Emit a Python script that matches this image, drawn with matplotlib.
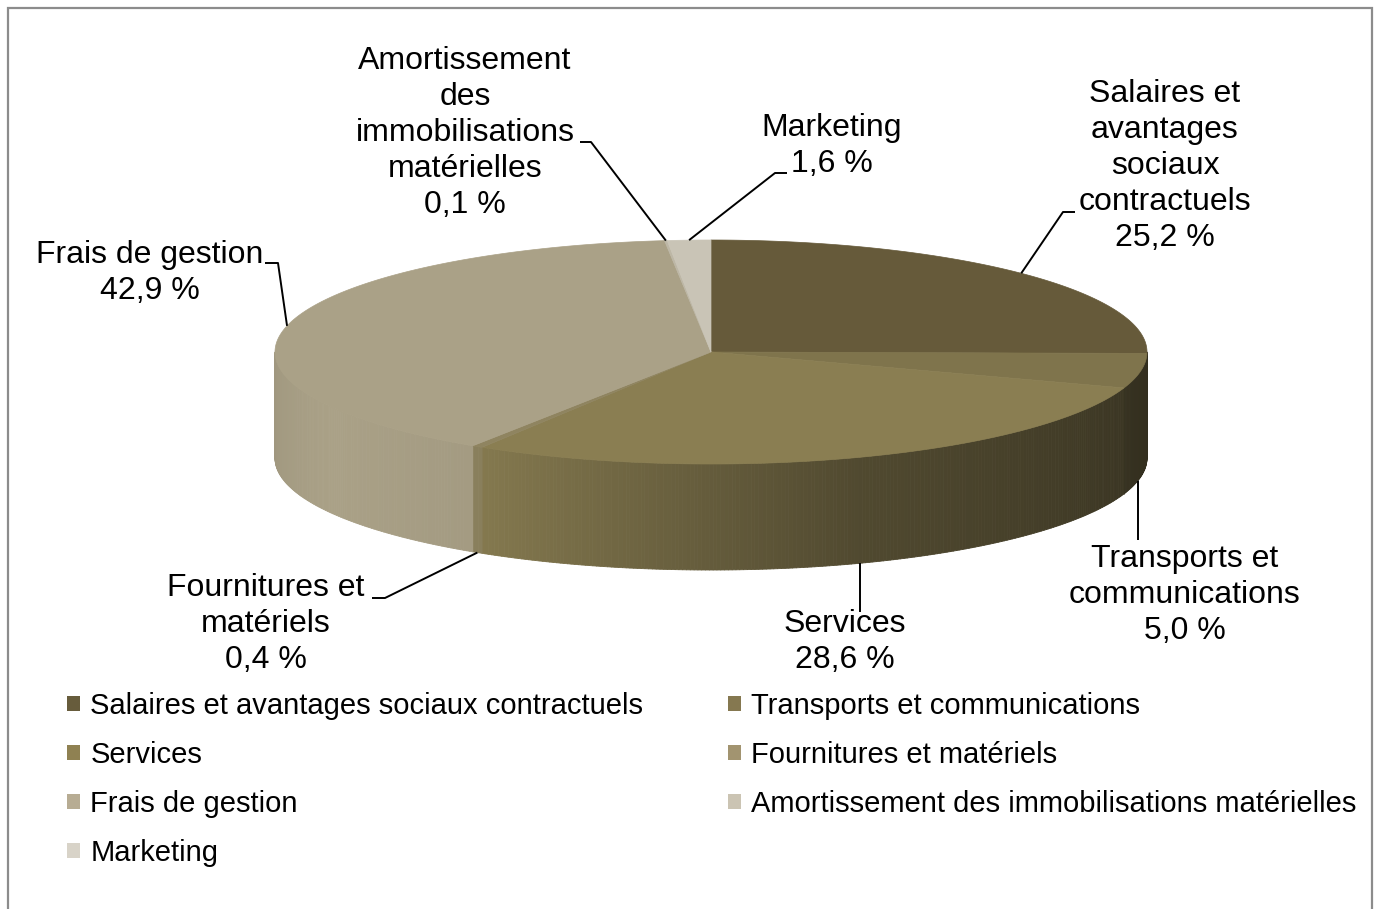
import numpy as np
import matplotlib
matplotlib.use("Agg")
import matplotlib.pyplot as plt
from matplotlib.patches import Polygon, Rectangle, Patch
from matplotlib.collections import PolyCollection
import matplotlib.colors as mcolors

# ---------------- data ----------------
categories = [
    "Salaires et avantages sociaux contractuels",
    "Transports et communications",
    "Services",
    "Fournitures et matériels",
    "Frais de gestion",
    "Amortissement des immobilisations matérielles",
    "Marketing",
]
# size of each drawn slice (percent of the circle)
slice_shares = [25.2, 5.0, 28.6, 0.4, 39.1, 0.1, 1.6]
# percentages printed in the data labels
label_values = ["25,2 %", "5,0 %", "28,6 %", "0,4 %", "42,9 %", "0,1 %", "1,6 %"]
label_names = [
    "Salaires et\navantages\nsociaux\ncontractuels",
    "Transports et\ncommunications",
    "Services",
    "Fournitures et\nmatériels",
    "Frais de gestion",
    "Amortissement\ndes\nimmobilisations\nmatérielles",
    "Marketing",
]

# ---------------- style ----------------
top_colors = ["#665a3a", "#7f744c", "#8a7e52", "#8f8460", "#aaa187", "#bdb7a6", "#c9c4b6"]
legend_colors = ["#675c3c", "#857850", "#8f8152", "#a29470", "#b7ac93", "#cbc4b3", "#d8d3c8"]
FONT = "Liberation Sans"
FS_LEG = 21
FS_LAB = 23

W, H = 1374, 909
fig = plt.figure(figsize=(W / 100, H / 100), dpi=100)
ax = fig.add_axes([0, 0, 1, 1])
ax.set_xlim(0, W)
ax.set_ylim(H, 0)
ax.axis("off")

# pie geometry (pixels)
cx, cy, rx, ry, depth = 711, 352, 436, 112, 106

shares = np.array(slice_shares, dtype=float)
edges = np.concatenate([[0], np.cumsum(shares)]) / shares.sum() * 360.0


def rim(th):
    t = np.radians(th)
    return cx + rx * np.sin(t), cy - ry * np.cos(t)


def shade(th):
    # lighting factor for the side wall depending on its facing angle
    return np.interp(th, [90, 106, 160, 212, 240, 270],
                     [0.40, 0.42, 0.58, 0.96, 1.0, 0.94])


# side walls (front half only)
polys, cols = [], []
for i in range(len(shares)):
    a0, a1 = edges[i], edges[i + 1]
    lo, hi = max(a0, 90.0), min(a1, 270.0)
    if lo >= hi:
        continue
    ts = np.append(np.arange(lo, hi, 0.5), hi)
    base = np.array(mcolors.to_rgb(top_colors[i]))
    for t0, t1 in zip(ts[:-1], ts[1:]):
        x0, y0 = rim(t0)
        x1, y1 = rim(t1)
        polys.append([(x0, y0), (x1, y1), (x1, y1 + depth), (x0, y0 + depth)])
        cols.append(np.clip(base * shade((t0 + t1) / 2), 0, 1))
pc = PolyCollection(polys, facecolors=cols, edgecolors=cols, linewidths=0.6)
ax.add_collection(pc)

# top faces
for i in range(len(shares)):
    ts = np.linspace(edges[i], edges[i + 1], max(3, int((edges[i + 1] - edges[i]) * 2)))
    xs, ys = rim(ts)
    pts = [(cx, cy)] + list(zip(xs, ys))
    ax.add_patch(Polygon(pts, closed=True, facecolor=top_colors[i],
                         edgecolor=top_colors[i], linewidth=0.5))

# ---------------- data labels ----------------
mid = (edges[:-1] + edges[1:]) / 2
# text centre, leader-line start points, anchor mode
label_layout = [
    dict(pos=(1165, 166), line=[(1075, 212), (1063, 212)], mode="top"),
    dict(pos=(1185, 595), line=[(1138, 540)], mode="vertical"),
    dict(pos=(845, 642), line=[(860, 612)], mode="vertical"),
    dict(pos=(266, 624), line=[(372, 598), (385, 598)], mode="bottom"),
    dict(pos=(150, 273), line=[(265, 263), (278, 263)], mode="top"),
    dict(pos=(465, 133), line=[(580, 142), (591, 142)], mode="top"),
    dict(pos=(832, 146), line=[(787, 173), (775, 173)], mode="top"),
]

for i, lay in enumerate(label_layout):
    ax.text(lay["pos"][0], lay["pos"][1], label_names[i] + "\n" + label_values[i],
            ha="center", va="center", fontsize=FS_LAB, family=FONT, linespacing=1.27,
            color="black")
    if lay["mode"] == "top":
        axx, ayy = rim(mid[i])
    elif lay["mode"] == "bottom":
        axx, ayy = rim(mid[i])
        ayy += depth
    else:
        lx = lay["line"][-1][0]
        th = 180 - np.degrees(np.arcsin((lx - cx) / rx))
        axx, ayy = rim(th)
        axx = lx
        ayy += depth
    pts = lay["line"] + [(axx, ayy)]
    ax.plot([p[0] for p in pts], [p[1] for p in pts], color="black", lw=1.4,
            solid_capstyle="butt")

# ---------------- legend ----------------
handles = [Patch(facecolor=c, edgecolor="none") for c in legend_colors]
order = [0, 2, 4, 6, 1, 3, 5]
ax.legend([handles[i] for i in order], [categories[i] for i in order],
          ncol=2, loc="upper left", bbox_to_anchor=(67 / W, 1 - 692 / H),
          bbox_transform=fig.transFigure, frameon=False,
          prop={"family": FONT, "size": FS_LEG},
          handlelength=0.45, handleheight=0.45, handletextpad=0.35,
          columnspacing=2.9, labelspacing=0.72, borderpad=0, borderaxespad=0)

# chart border (bottom edge lies outside the picture)
fig.add_artist(Rectangle((8 / W, -0.1), 1364 / W, 1 - 8 / H + 0.1,
                         transform=fig.transFigure, fill=False,
                         edgecolor="#8c8c8c", linewidth=1.6))

fig.savefig("out.png", dpi=100)
